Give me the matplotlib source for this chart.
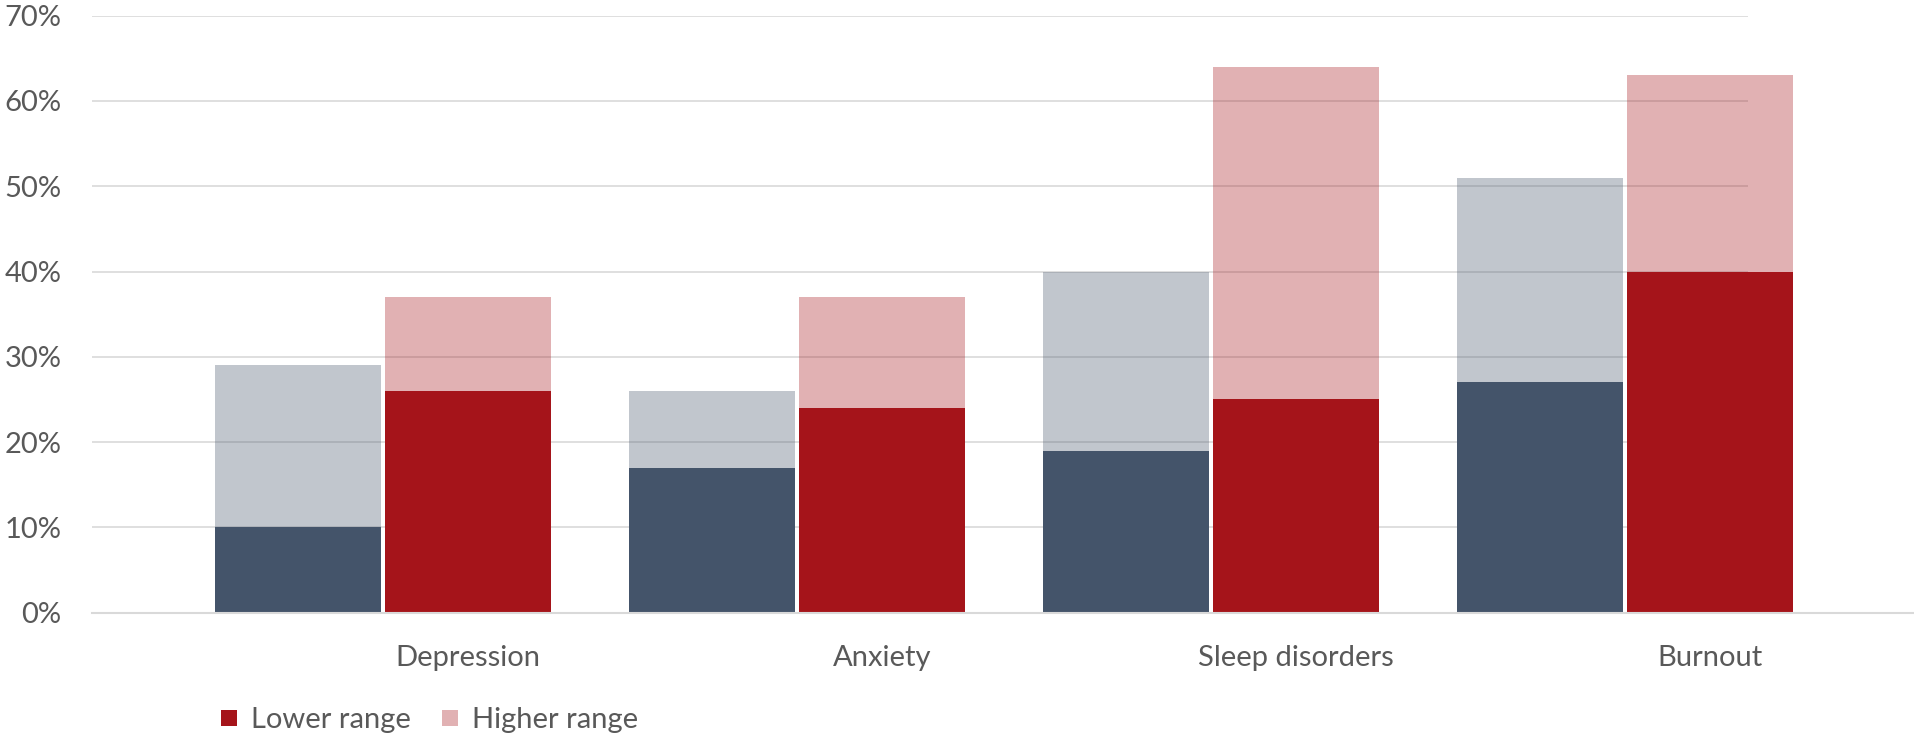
import matplotlib
matplotlib.use("Agg")
import matplotlib.pyplot as plt
import numpy as np
from matplotlib.lines import Line2D
from matplotlib.ticker import PercentFormatter

plt.rcParams["font.family"] = ["Lato", "DejaVu Sans"]

categories = ["Depression", "Anxiety", "Sleep disorders", "Burnout"]

# comparison series (dark slate), lower and higher estimates in %
grey_low = [10, 17, 19, 27]
grey_high = [29, 26, 40, 51]

# main series (red), lower and higher estimates in %
red_low = [26, 24, 25, 40]
red_high = [37, 37, 64, 63]

navy = "#44546A"
red = "#A5141A"
text_col = "#595959"
grid_col = "#D9D9D9"
fade = 0.33
fs = 21

fig = plt.figure(figsize=(19.14, 7.36), dpi=100)
ax = fig.add_axes([92 / 1914, 123.3 / 736, 1656 / 1914, 597 / 736])

x = np.arange(len(categories))
w = 0.401
shift = 0.4106

glow = np.array(grey_low) / 100
ghigh = np.array(grey_high) / 100
rlow = np.array(red_low) / 100
rhigh = np.array(red_high) / 100

ax.bar(x - shift, glow, w, color=navy, zorder=3, clip_on=False)
ax.bar(x - shift, ghigh - glow, w, bottom=glow, color=navy, alpha=fade,
       zorder=3, clip_on=False)
ax.bar(x, rlow, w, color=red, zorder=3, clip_on=False)
ax.bar(x, rhigh - rlow, w, bottom=rlow, color=red, alpha=fade,
       zorder=3, clip_on=False)

ax.set_xlim(-0.908, 3.092)
ax.set_ylim(0, 0.7)
ax.set_yticks(np.arange(0, 0.71, 0.1))
ax.yaxis.set_major_formatter(PercentFormatter(1.0, decimals=0))
ax.grid(axis="y", color=grid_col, linewidth=1.2, zorder=1)
ax.set_axisbelow(True)
for s in ax.spines.values():
    s.set_visible(False)
# baseline runs out to the right edge of the figure
ax.axhline(0, xmin=0, xmax=1822 / 1656, color=grid_col, linewidth=1.5,
           zorder=4, clip_on=False)

ax.set_xticks(x)
ax.set_xticklabels(categories)
ax.tick_params(axis="x", length=0, pad=23.5, labelsize=fs, labelcolor=text_col)
ax.tick_params(axis="y", length=0, pad=22, labelsize=fs, labelcolor=text_col)

handles = [
    Line2D([], [], marker="s", linestyle="none", markersize=12,
           color=red, markeredgewidth=0),
    Line2D([], [], marker="s", linestyle="none", markersize=12,
           color=red, alpha=fade, markeredgewidth=0),
]
fig.legend(handles, ["Lower range", "Higher range"], loc="center left",
           bbox_to_anchor=(219 / 1914, 1 - 720 / 736), ncol=2, frameon=False,
           fontsize=fs, labelcolor=text_col, handlelength=0.7,
           handletextpad=0.4, columnspacing=1.0, borderaxespad=0, borderpad=0)

fig.savefig("out.png", dpi=100, facecolor="white")
